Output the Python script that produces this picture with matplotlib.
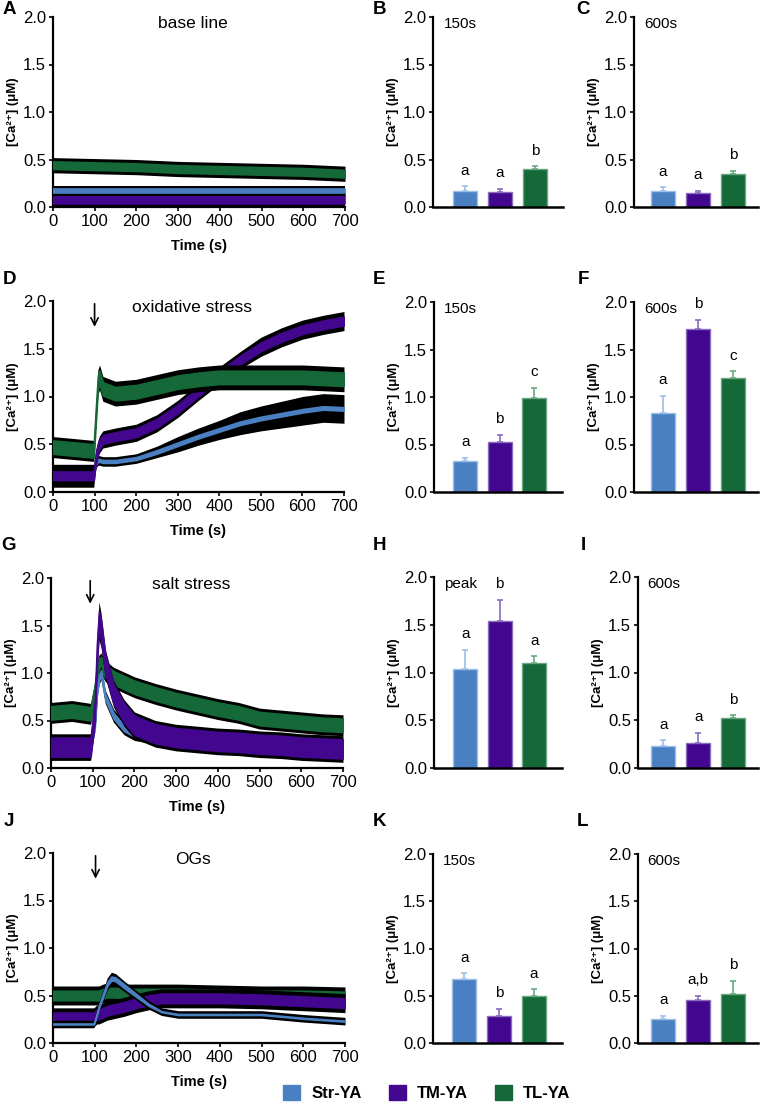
import numpy as np
import matplotlib
matplotlib.use('Agg')
import matplotlib.pyplot as plt
from matplotlib.patches import Patch

plt.rcParams['font.family'] = ['Liberation Sans', 'DejaVu Sans']

# colours
BLUE = '#4a80c2'
PURPLE = '#43068f'
GREEN = '#156838'
EDGES = {BLUE: '#9cc0e8', PURPLE: '#8a6bc0', GREEN: '#6aa883'}
colors = {'Str-YA': BLUE, 'TM-YA': PURPLE, 'TL-YA': GREEN}
lines_names = ['Str-YA', 'TM-YA', 'TL-YA']

# ---- time courses (mean, black band half width, coloured trace half width) ----
tA = [0, 100, 200, 300, 400, 500, 600, 700]
A_mean = {'Str-YA': [0.17, 0.17, 0.17, 0.17, 0.17, 0.17, 0.17, 0.17],
          'TM-YA': [0.09, 0.09, 0.09, 0.09, 0.09, 0.09, 0.09, 0.09],
          'TL-YA': [0.44, 0.43, 0.42, 0.40, 0.39, 0.38, 0.37, 0.35]}
A_err = {'Str-YA': [0.055, 0.055, 0.055, 0.055, 0.055, 0.055, 0.055, 0.055],
         'TM-YA': [0.09, 0.09, 0.09, 0.09, 0.09, 0.09, 0.09, 0.09],
         'TL-YA': [0.08, 0.08, 0.08, 0.08, 0.08, 0.08, 0.08, 0.08]}
A_w = {'Str-YA': 0.02, 'TM-YA': 0.06, 'TL-YA': 0.04}

tD = [0, 50, 98, 103, 108, 112, 120, 150, 200, 250, 300, 350, 400, 450, 500, 550, 600, 650, 700]
D_mean = {'Str-YA': [0.2, 0.2, 0.2, 0.3, 0.33, 0.33, 0.32, 0.32, 0.35, 0.42, 0.5, 0.58, 0.65, 0.72, 0.77, 0.81, 0.85, 0.88, 0.87],
          'TM-YA': [0.17, 0.17, 0.17, 0.35, 0.45, 0.5, 0.55, 0.58, 0.62, 0.72, 0.87, 1.05, 1.22, 1.38, 1.52, 1.62, 1.7, 1.75, 1.79],
          'TL-YA': [0.47, 0.45, 0.43, 0.8, 1.15, 1.2, 1.08, 1.03, 1.05, 1.1, 1.15, 1.18, 1.2, 1.2, 1.2, 1.2, 1.2, 1.19, 1.18]}
D_err = {'Str-YA': [0.05, 0.05, 0.05, 0.05, 0.05, 0.05, 0.05, 0.05, 0.05, 0.06, 0.08, 0.09, 0.1, 0.12, 0.13, 0.14, 0.15, 0.15, 0.15],
         'TM-YA': [0.12, 0.12, 0.12, 0.1, 0.09, 0.09, 0.09, 0.09, 0.09, 0.09, 0.09, 0.09, 0.09, 0.09, 0.1, 0.1, 0.1, 0.1, 0.1],
         'TL-YA': [0.11, 0.11, 0.11, 0.11, 0.13, 0.13, 0.13, 0.13, 0.13, 0.13, 0.13, 0.13, 0.13, 0.13, 0.13, 0.13, 0.13, 0.13, 0.13]}
D_w = {'Str-YA': 0.018, 'TM-YA': 0.045, 'TL-YA': 0.07}

tG = [0, 50, 95, 105, 110, 115, 120, 130, 150, 175, 200, 250, 300, 350, 400, 450, 500, 550, 600, 650, 700]
G_mean = {'Str-YA': [0.22, 0.22, 0.22, 0.45, 0.8, 0.95, 1.0, 0.75, 0.55, 0.42, 0.36, 0.32, 0.3, 0.29, 0.28, 0.27, 0.26, 0.25, 0.24, 0.23, 0.22],
          'TM-YA': [0.22, 0.22, 0.22, 0.6, 1.2, 1.55, 1.45, 1.1, 0.78, 0.58, 0.45, 0.36, 0.32, 0.3, 0.28, 0.27, 0.25, 0.24, 0.22, 0.21, 0.2],
          'TL-YA': [0.58, 0.6, 0.57, 0.8, 1.0, 1.08, 1.1, 1.02, 0.95, 0.9, 0.85, 0.78, 0.72, 0.67, 0.62, 0.58, 0.52, 0.5, 0.48, 0.46, 0.45]}
G_err = {'Str-YA': [0.07, 0.07, 0.07, 0.07, 0.07, 0.07, 0.07, 0.07, 0.07, 0.07, 0.07, 0.07, 0.07, 0.07, 0.07, 0.07, 0.07, 0.07, 0.07, 0.07, 0.07],
         'TM-YA': [0.14, 0.14, 0.14, 0.15, 0.18, 0.2, 0.18, 0.15, 0.14, 0.14, 0.14, 0.14, 0.14, 0.14, 0.14, 0.14, 0.14, 0.14, 0.14, 0.14, 0.14],
         'TL-YA': [0.11, 0.11, 0.11, 0.11, 0.11, 0.11, 0.11, 0.11, 0.11, 0.11, 0.11, 0.11, 0.11, 0.11, 0.11, 0.11, 0.11, 0.11, 0.11, 0.11, 0.11]}
G_w = {'Str-YA': 0.03, 'TM-YA': 0.1, 'TL-YA': 0.07}

tJ = [0, 50, 98, 105, 110, 120, 130, 140, 150, 170, 200, 230, 260, 300, 400, 500, 600, 700]
J_mean = {'Str-YA': [0.2, 0.2, 0.2, 0.3, 0.38, 0.5, 0.62, 0.68, 0.67, 0.6, 0.5, 0.4, 0.33, 0.3, 0.3, 0.3, 0.26, 0.23],
          'TM-YA': [0.27, 0.27, 0.27, 0.3, 0.3, 0.32, 0.34, 0.35, 0.36, 0.38, 0.42, 0.45, 0.47, 0.47, 0.47, 0.46, 0.44, 0.42],
          'TL-YA': [0.5, 0.5, 0.5, 0.5, 0.5, 0.52, 0.53, 0.53, 0.53, 0.52, 0.52, 0.52, 0.52, 0.52, 0.51, 0.5, 0.5, 0.49]}
J_err = {'Str-YA': [0.04, 0.04, 0.04, 0.045, 0.05, 0.06, 0.065, 0.065, 0.06, 0.055, 0.05, 0.045, 0.04, 0.04, 0.04, 0.04, 0.04, 0.04],
         'TM-YA': [0.1, 0.1, 0.1, 0.1, 0.1, 0.1, 0.1, 0.1, 0.1, 0.1, 0.1, 0.1, 0.1, 0.1, 0.1, 0.1, 0.1, 0.1],
         'TL-YA': [0.1, 0.1, 0.1, 0.1, 0.1, 0.1, 0.1, 0.1, 0.1, 0.1, 0.1, 0.1, 0.1, 0.1, 0.1, 0.1, 0.1, 0.1]}
J_w = {'Str-YA': 0.02, 'TM-YA': 0.05, 'TL-YA': 0.05}

# ---- bar panels: value, error, letters ----
B_val, B_err, B_let = [0.17, 0.16, 0.40], [0.05, 0.03, 0.03], ['a', 'a', 'b']
C_val, C_err, C_let = [0.17, 0.15, 0.35], [0.04, 0.02, 0.03], ['a', 'a', 'b']
E_val, E_err, E_let = [0.33, 0.53, 0.99], [0.03, 0.07, 0.11], ['a', 'b', 'c']
F_val, F_err, F_let = [0.83, 1.72, 1.20], [0.18, 0.09, 0.07], ['a', 'b', 'c']
H_val, H_err, H_let = [1.04, 1.54, 1.10], [0.20, 0.22, 0.07], ['a', 'b', 'a']
I_val, I_err, I_let = [0.23, 0.26, 0.52], [0.06, 0.11, 0.03], ['a', 'a', 'b']
K_val, K_err, K_let = [0.68, 0.29, 0.50], [0.06, 0.07, 0.07], ['a', 'b', 'a']
L_val, L_err, L_let = [0.25, 0.46, 0.52], [0.04, 0.04, 0.14], ['a', 'a,b', 'b']

W, H = 760, 1108
fig = plt.figure(figsize=(W / 100, H / 100), dpi=100)

YLAB = '[Ca\u00b2\u207a] (\u03bcM)'


def rect(x0, x1, ytop, ybot):
    return [x0 / W, 1 - ybot / H, (x1 - x0) / W, (ybot - ytop) / H]


def style(ax):
    for s in ['top', 'right']:
        ax.spines[s].set_visible(False)
    for s in ['left', 'bottom']:
        ax.spines[s].set_linewidth(1.6)
    ax.set_ylim(0, 2.0)
    ax.set_yticks([0, 0.5, 1.0, 1.5, 2.0])
    ax.set_yticklabels(['0.0', '0.5', '1.0', '1.5', '2.0'])
    ax.tick_params(labelsize=12, length=3, width=1.2, pad=2)
    ax.set_ylabel(YLAB, fontsize=9.5, fontweight='bold', labelpad=3)


def trace_panel(r, t, mean, err, wid, order, title, arrow_x=None):
    ax = fig.add_axes(rect(*r))
    style(ax)
    for z, name in enumerate(order):
        m = np.array(mean[name])
        e = np.array(err[name])
        w = np.minimum(wid[name], e - 0.035)
        ax.fill_between(t, m - e, m + e, color='black', lw=0, zorder=2 + 2 * z)
        ax.fill_between(t, m - w, m + w, color=colors[name], lw=1.2, edgecolor=colors[name],
                        zorder=3 + 2 * z)
    ax.set_xlim(0, 700)
    ax.set_xticks(range(0, 701, 100))
    ax.set_xlabel('Time (s)', fontsize=10.5, fontweight='bold', labelpad=7)
    ax.text(335, 1.93, title, ha='center', va='center', fontsize=12.5)
    if arrow_x is not None:
        ax.annotate('', xy=(arrow_x, 1.7), xytext=(arrow_x, 2.0),
                    arrowprops=dict(arrowstyle='->', color='black', lw=1.2,
                                    mutation_scale=13), annotation_clip=False)
    return ax


def bar_panel(r, xlim, vals, errs, letters, sub):
    ax = fig.add_axes(rect(*r))
    style(ax)
    x = np.arange(3)
    cols = [BLUE, PURPLE, GREEN]
    for i in range(3):
        ax.bar(x[i], vals[i], width=0.69, color=cols[i], edgecolor=EDGES[cols[i]], lw=1, zorder=2)
        ax.errorbar(x[i], vals[i], yerr=[[0], [errs[i]]], fmt='none', ecolor=EDGES[cols[i]],
                    elinewidth=1.2, capsize=2.5, capthick=1.2, zorder=1)
        ax.text(x[i], vals[i] + errs[i] + 0.09, letters[i], ha='center', va='bottom', fontsize=11)
    ax.set_xlim(*xlim)
    ax.set_xticks([])
    ax.spines['bottom'].set_linewidth(1.8)
    ax.text(0.08, 0.965, sub, transform=ax.transAxes, ha='left', va='center', fontsize=11)
    return ax


# row 1
trace_panel((53, 345, 17, 207), tA, A_mean, A_err, A_w, ['TM-YA', 'Str-YA', 'TL-YA'], 'base line')
bar_panel((433, 563, 17, 207), (-0.9, 2.8), B_val, B_err, B_let, '150s')
bar_panel((634, 758, 17, 207), (-0.82, 2.72), C_val, C_err, C_let, '600s')
# row 2
trace_panel((53, 344, 301, 492), tD, D_mean, D_err, D_w, ['Str-YA', 'TM-YA', 'TL-YA'], 'oxidative stress', 100)
bar_panel((434, 562, 302, 492), (-0.9, 2.8), E_val, E_err, E_let, '150s')
bar_panel((634, 758, 302, 492), (-0.82, 2.72), F_val, F_err, F_let, '600s')
# row 3
trace_panel((51, 343, 578, 768), tG, G_mean, G_err, G_w, ['TL-YA', 'Str-YA', 'TM-YA'], 'salt stress', 94)
bar_panel((434, 562, 577, 768), (-0.9, 2.8), H_val, H_err, H_let, 'peak')
bar_panel((638, 758, 577, 768), (-0.73, 2.72), I_val, I_err, I_let, '600s')
# row 4
trace_panel((53, 345, 853, 1043), tJ, J_mean, J_err, J_w, ['TL-YA', 'TM-YA', 'Str-YA'], 'OGs', 102)
bar_panel((433, 562, 854, 1043), (-0.9, 2.8), K_val, K_err, K_let, '150s')
bar_panel((638, 758, 854, 1043), (-0.73, 2.72), L_val, L_err, L_let, '600s')

# panel letters
labels = [('A', 9, 9), ('B', 379, 9), ('C', 583, 9),
          ('D', 9, 280), ('E', 379, 280), ('F', 583, 280),
          ('G', 9, 546), ('H', 379, 546), ('I', 583, 546),
          ('J', 9, 822), ('K', 379, 822), ('L', 583, 822)]
for s, px, py in labels:
    fig.text(px / W, 1 - py / H, s, ha='center', va='center', fontsize=13.5, fontweight='bold')

handles = [Patch(facecolor=colors[n], edgecolor=colors[n]) for n in lines_names]
fig.legend(handles, lines_names, loc='center', bbox_to_anchor=(427 / W, 1 - 1093 / H), ncol=3,
           frameon=False, handlelength=1.0, handleheight=1.0, handletextpad=0.7, columnspacing=1.6,
           prop={'weight': 'bold', 'size': 12})

fig.savefig('out.png', dpi=100)
